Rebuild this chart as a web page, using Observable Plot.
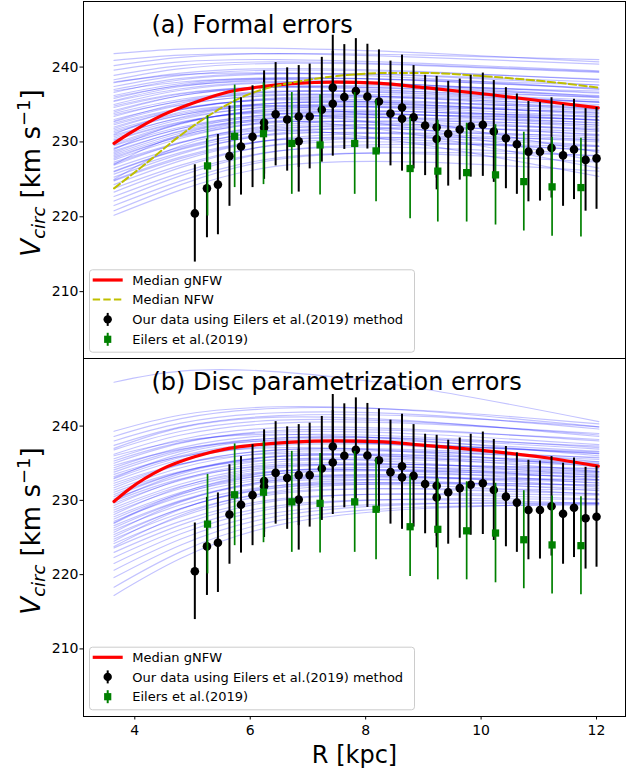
<!DOCTYPE html>
<html><head><meta charset="utf-8">
<script src="https://cdn.jsdelivr.net/npm/d3@7"></script>
<script src="https://cdn.jsdelivr.net/npm/@observablehq/plot@0.6"></script>
<style>
body{margin:0;background:#fff;font-family:"DejaVu Sans",sans-serif;}
#wrap{position:relative;width:633px;height:769px;overflow:hidden}
#wrap > svg{display:block}
#overlay{position:absolute;left:0;top:0;pointer-events:none}
</style></head><body><div id="wrap"></div>
<script>
// ---------------- data ----------------
const xTicks = [4, 6, 8, 10, 12];
const yTicks = [210, 220, 230, 240];

// model curves (sampled at these radii, kpc)
const modelR = [3.64, 4.8, 6.5, 9.0, 12.04];
const topModelCurves = [
 [241.8,242.4,242.5,241.9,240.7],[240.9,241.6,241.8,241.3,240.4],[240.2,241.3,241.8,241.6,241.0],
 [239.6,240.7,241.0,240.5,239.5],[238.9,240.2,240.7,240.3,239.4],[238.3,239.8,240.5,240.2,239.3],
 [237.9,239.2,239.8,239.4,238.3],[237.4,238.9,239.6,239.3,238.4],[237.0,238.5,239.2,238.8,237.6],
 [236.6,238.3,239.1,238.9,238.0],[236.2,237.8,238.6,238.2,237.1],[235.8,237.6,238.5,238.2,237.2],
 [235.4,237.1,238.0,237.6,236.5],[235.0,236.9,237.9,237.6,236.6],[234.6,236.4,237.4,237.0,235.9],
 [234.2,236.2,237.3,237.1,236.2],[233.8,235.7,236.8,236.4,235.3],[233.4,235.5,236.7,236.5,235.6],
 [233.0,235.0,236.2,235.9,234.8],[232.7,234.9,236.3,236.2,235.4],[232.3,234.4,235.7,235.4,234.3],
 [232.0,234.3,235.8,235.8,235.0],[231.6,233.8,235.2,234.9,233.8],[231.2,233.6,235.2,235.2,234.5],
 [230.9,233.2,234.7,234.5,233.4],[230.5,233.0,234.8,234.9,234.2],[230.2,232.6,234.2,234.0,232.9],
 [229.8,232.5,234.4,234.6,233.9],[229.5,232.0,233.7,233.6,232.5],[229.1,231.8,233.8,234.0,233.3],
 [228.8,231.4,233.2,233.1,232.0],[228.4,231.2,233.3,233.6,232.9],[228.0,230.7,232.6,232.6,231.6],
 [227.6,230.5,232.8,233.2,232.6],[227.3,230.0,232.1,232.1,231.0],[226.9,229.9,232.3,232.8,232.3],
 [226.5,229.3,231.5,231.6,230.5],[226.1,229.1,231.7,232.3,231.8],[225.7,228.6,231.0,231.1,230.0],
 [225.3,228.4,231.2,231.9,231.4],[224.8,227.8,230.3,230.5,229.4],[224.3,227.5,230.4,231.2,230.8],
 [223.8,226.9,229.6,229.9,228.9],[223.3,226.6,229.7,230.6,230.3],[222.7,225.9,228.8,229.2,228.1],
 [222.1,225.5,228.8,229.7,229.4],[221.5,224.8,227.9,228.4,227.3],[220.8,224.3,227.7,228.6,228.2],
 [220.2,223.6,226.8,227.3,226.1],[236.0,237.5,238.1,237.4,236.0],[234.8,236.5,237.3,236.7,235.3],
 [233.6,235.4,236.4,235.8,234.4],[232.5,234.5,235.6,235.0,233.6],[231.4,233.6,234.9,234.3,232.9],
 [230.3,232.7,234.1,233.6,232.2],[229.2,231.8,233.4,233.0,231.6],[228.2,230.9,232.7,232.3,230.9],
 [227.1,229.9,231.9,231.6,230.2],[226.0,229.0,231.1,230.9,229.5],[224.9,228.0,230.3,230.2,228.8],
 [235.5,237.4,238.4,238.3,237.6],[234.0,236.2,237.4,237.4,236.8],[232.8,235.2,236.7,236.7,236.0],
 [231.8,234.3,235.9,236.0,235.3],[230.7,233.3,235.2,235.3,234.7],[229.6,232.4,234.5,234.7,234.0],
 [228.6,231.5,233.7,234.0,233.4],[227.8,230.8,233.2,233.6,233.0],[236.8,238.0,238.4,237.6,236.1],
 [238.0,239.0,239.2,238.5,237.0],[227.0,231.0,232.8,230.8,226.5],[229.0,232.5,233.8,231.6,227.4],
 [225.0,229.5,231.6,229.6,225.4],[231.0,234.0,234.8,232.6,228.6]
];
const bottomModelCurves = [
 [245.9,247.4,247.3,245.0,240.6],[238.6,241.0,242.4,242.1,240.3],[238.0,240.4,241.8,241.5,239.6],
 [237.4,239.9,241.4,241.3,239.9],[236.8,239.3,240.8,240.5,238.8],[236.2,238.8,240.4,240.3,239.0],
 [235.6,238.2,239.8,239.5,238.0],[235.0,237.7,239.4,239.3,238.2],[234.4,237.1,238.8,238.5,237.1],
 [233.8,236.6,238.4,238.3,237.3],[233.2,236.0,237.8,237.5,236.3],[232.6,235.5,237.4,237.4,236.5],
 [232.0,234.9,236.8,236.6,235.5],[231.4,234.4,236.5,236.5,235.8],[230.8,233.8,235.9,235.8,234.8],
 [230.2,233.3,235.5,235.6,235.0],[229.6,232.7,234.9,234.8,233.9],[229.0,232.2,234.6,234.8,234.3],
 [228.4,231.6,233.9,234.0,233.1],[227.8,231.1,233.6,233.9,233.5],[227.2,230.5,233.0,233.1,232.4],
 [226.6,230.0,232.7,233.1,232.8],[226.0,229.4,232.0,232.3,231.6],[225.4,228.9,231.8,232.4,232.1],
 [224.8,228.3,231.1,231.5,230.9],[224.2,227.8,230.9,231.6,231.4],[223.6,227.2,230.2,230.8,230.2],
 [223.0,226.7,230.0,230.9,230.7],[222.3,226.1,229.3,230.1,229.6],[221.5,225.5,229.0,230.2,230.1],
 [220.6,224.8,228.4,229.6,229.5],[219.6,224.0,227.9,229.5,229.7],[218.3,223.1,227.3,229.1,229.4],
 [217.2,222.2,226.7,228.9,229.6],[236.0,238.0,238.9,238.0,236.0],[234.7,236.9,238.0,237.2,235.2],
 [233.5,235.9,237.1,236.4,234.5],[232.3,234.9,236.3,235.7,233.9],[231.1,233.9,235.5,235.0,233.3],
 [229.9,232.9,234.7,234.4,232.8],[228.7,231.9,234.0,233.8,232.3],[227.5,230.9,233.2,233.2,231.8],
 [226.3,229.9,232.5,232.6,231.3],[225.1,228.9,231.7,232.0,230.8],[235.3,237.8,239.2,238.9,237.5],
 [234.1,236.8,238.4,238.2,236.9],[232.9,235.8,237.6,237.5,236.3],[231.7,234.8,236.8,236.8,235.7],
 [230.5,233.8,236.0,236.1,235.2],[229.3,232.8,235.2,235.4,234.7],[228.1,231.8,234.4,234.8,234.2],
 [226.9,230.8,233.6,234.1,233.7],[225.7,229.8,232.8,233.5,233.2],[224.5,228.8,232.0,232.9,232.7],
 [239.3,241.5,242.6,242.0,239.9],[237.0,239.8,241.2,240.6,238.6],[233.0,236.3,238.2,237.9,236.6],
 [230.0,233.6,235.9,236.0,235.0],[227.0,231.0,233.9,234.4,233.8],[223.8,228.0,231.3,232.3,232.0]
];

// median gNFW / NFW
const medianR = [3.64, 3.9, 4.47, 5.05, 5.63, 6.2, 6.72, 7.5, 8.2, 9.03, 10.18, 11.34, 12.03];
const gnfwTopV = [229.8, 231.1, 233.55, 235.3, 236.7, 237.4, 237.8, 238.0, 237.85, 237.25, 236.3, 235.2, 234.55];
const gnfwBottomV = [229.85, 231.5, 234.2, 235.9, 237.0, 237.55, 237.85, 238.0, 237.9, 237.4, 236.6, 235.5, 234.6];
const nfwR = [3.64, 4.19, 4.76, 5.34, 5.92, 6.49, 6.78, 7.5, 8.3, 9.03, 10.18, 11.34, 12.03];
const nfwV = [223.8, 227.1, 230.7, 233.8, 236.2, 237.55, 238.0, 238.8, 239.2, 239.2, 238.7, 237.9, 237.25];

// our data (black)
const ourR = [5.04,5.25,5.44,5.64,5.84,6.04,6.24,6.24,6.44,6.64,6.84,6.84,7.03,7.24,7.43,7.43,7.63,7.83,8.03,8.23,8.43,8.63,8.63,8.83,9.03,9.23,9.23,9.43,9.63,9.82,10.03,10.22,10.43,10.62,10.82,11.02,11.22,11.42,11.61,11.81,12.0];
const ourV = [220.45,223.8,224.3,228.1,229.4,230.7,232.6,231.9,233.7,233.0,233.4,230.1,233.4,234.3,237.25,235.1,236.0,236.8,236.05,235.4,233.8,234.6,233.1,233.3,232.2,231.96,230.4,231.1,231.65,232.1,232.3,231.4,230.5,229.7,228.7,228.7,229.2,228.2,229.0,227.6,227.8];
const ourErr = [6.5,6.6,6.7,6.7,6.5,6.8,6.9,6.9,6.9,6.9,6.8,6.8,7.0,7.0,7.0,7.0,7.0,7.0,7.0,6.9,7.0,7.0,7.0,6.9,6.7,6.8,6.8,7.0,6.75,6.8,6.9,6.8,6.75,6.7,6.7,6.6,6.7,6.8,6.7,6.85,6.8];

// Eilers et al. (2019) (green)
const eilersR = [5.26,5.73,6.23,6.72,7.21,7.81,8.18,8.77,9.25,9.75,10.25,10.74,11.23,11.73];
const eilersV = [226.8,230.75,231.1,229.8,229.6,229.8,228.8,226.45,226.1,225.9,225.6,224.7,224.0,223.9];
const eilersErr = [6.7,6.85,6.8,6.8,6.7,6.8,6.8,6.7,6.8,6.6,6.7,6.6,6.6,6.6];

// ---------------- build ----------------
const toCurves = (curves) => curves.flatMap((c, i) => c.map((v, j) => ({id: i, R: modelR[j], v})));
const pts = (R, V, E) => R.map((r, i) => ({R: r, v: V[i], e: E[i]}));
const ourData = pts(ourR, ourV, ourErr);
const eilersData = pts(eilersR, eilersV, eilersErr);
const medTop = medianR.map((r, i) => ({R: r, v: gnfwTopV[i]}));
const medBot = medianR.map((r, i) => ({R: r, v: gnfwBottomV[i]}));
const nfwData = nfwR.map((r, i) => ({R: r, v: nfwV[i]}));

const FONT = "DejaVu Sans";

function panel({curves, med, nfw, height, marginTop, marginBottom, yDomain, showX, title}) {
  const marks = [
    Plot.line(toCurves(curves), {x: "R", y: "v", z: "id", stroke: "#0000ff", strokeOpacity: 0.24, strokeWidth: 1.15, curve: "natural"}),
    Plot.line(med, {x: "R", y: "v", stroke: "#ff0000", strokeWidth: 3.2, curve: "monotone-x"}),
  ];
  if (nfw) marks.push(Plot.line(nfw, {x: "R", y: "v", stroke: "#bfbf00", strokeWidth: 2, strokeDasharray: "7.4,3.2", curve: "monotone-x"}));
  marks.push(
    Plot.ruleX(ourData, {x: "R", y1: d => d.v - d.e, y2: d => d.v + d.e, stroke: "black", strokeWidth: 2}),
    Plot.dot(ourData, {x: "R", y: "v", r: 4.3, fill: "black", stroke: "none"}),
    Plot.ruleX(eilersData, {x: "R", y1: d => d.v - d.e, y2: d => d.v + d.e, stroke: "#008000", strokeWidth: 1.7}),
    Plot.dot(eilersData, {x: "R", y: "v", r: 4.1, symbol: "square", fill: "#008000", stroke: "none"}),
    Plot.text([title], {text: d => d, frameAnchor: "top-left", dx: 68, dy: 14, fontSize: 24, textAnchor: "start", lineAnchor: "top", fill: "black"}),
    Plot.axisY(yTicks, {tickSize: 3.5, tickPadding: 1.5, fontSize: 14, label: null}),
    Plot.frame({stroke: "black", strokeWidth: 1})
  );
  if (showX) {
    marks.push(Plot.axisX(xTicks, {tickSize: 3.5, tickPadding: 5, fontSize: 14, label: null}));
    marks.push(Plot.text(["R [kpc]"], {text: d => d, frameAnchor: "bottom", dy: 46, fontSize: 24, lineAnchor: "bottom", fill: "black"}));
  }
  return Plot.plot({
    width: 633, height, marginLeft: 83, marginRight: 8, marginTop, marginBottom,
    x: {domain: [3.111, 12.502], axis: null},
    y: {domain: yDomain, axis: null},
    style: {fontFamily: FONT, background: "white", color: "black", overflow: "visible"},
    marks
  });
}

const wrap = document.getElementById("wrap");
const topSvg = panel({curves: topModelCurves, med: medTop, nfw: nfwData, height: 358, marginTop: 1, marginBottom: 0,
  yDomain: [201.07, 248.76], showX: false, title: "(a) Formal errors"});
const botSvg = panel({curves: bottomModelCurves, med: medBot, nfw: null, height: 411, marginTop: 0, marginBottom: 53,
  yDomain: [200.9, 249.1], showX: true, title: "(b) Disc parametrization errors"});
wrap.appendChild(topSvg);
wrap.appendChild(botSvg);

// y labels (with italic V_circ and superscript)
function ylab(svg, cy) {
  const t = d3.select(svg).append("text")
    .attr("transform", `translate(40,${cy}) rotate(-90)`)
    .attr("text-anchor", "middle").attr("font-family", FONT).attr("font-size", 26).attr("fill", "black");
  t.append("tspan").attr("font-style", "italic").text("V");
  t.append("tspan").attr("font-style", "italic").attr("font-size", 18).attr("dy", 5).text("circ");
  t.append("tspan").attr("dy", -5).text(" [km s");
  t.append("tspan").attr("font-size", 18).attr("dy", -10).text("\u22121");
  t.append("tspan").attr("dy", 10).text("]");
}
ylab(topSvg, 173);
ylab(botSvg, 173);

// legends
const ov = d3.select(wrap).append("svg").attr("id", "overlay").attr("width", 633).attr("height", 769);
function legend(x0, y0, w, h, rows) {
  const g = ov.append("g").attr("font-family", FONT).attr("font-size", 13);
  g.append("rect").attr("x", x0 + 0.5).attr("y", y0 + 0.5).attr("width", w).attr("height", h).attr("rx", 3)
    .attr("fill", "white").attr("fill-opacity", 0.8).attr("stroke", "#cccccc").attr("stroke-width", 1);
  rows.forEach(r => {
    const y = r.y;
    if (r.type === "line") {
      g.append("line").attr("x1", 92.7).attr("x2", 122.7).attr("y1", y).attr("y2", y)
        .attr("stroke", r.color).attr("stroke-width", r.width).attr("stroke-dasharray", r.dash || null);
    } else {
      g.append("line").attr("x1", 107.7).attr("x2", 107.7).attr("y1", y - 6.5).attr("y2", y + 6.5)
        .attr("stroke", r.color).attr("stroke-width", 2);
      if (r.symbol === "circle") g.append("circle").attr("cx", 107.7).attr("cy", y).attr("r", 4.2).attr("fill", r.color);
      else g.append("rect").attr("x", 107.7 - 3.6).attr("y", y - 3.6).attr("width", 7.2).attr("height", 7.2).attr("fill", r.color);
    }
    g.append("text").attr("x", 132.3).attr("y", y).attr("dy", "0.36em").attr("fill", "black").text(r.label);
  });
}
legend(89, 269.3, 325, 82.4, [
  {type: "line", color: "#ff0000", width: 3.2, label: "Median gNFW", y: 280},
  {type: "line", color: "#bfbf00", width: 2, dash: "7.4,3.2", label: "Median NFW", y: 299.6},
  {type: "err", color: "black", symbol: "circle", label: "Our data using Eilers et al.(2019) method", y: 319.4},
  {type: "err", color: "#008000", symbol: "square", label: "Eilers et al.(2019)", y: 339.3}
]);
legend(89, 646.7, 325, 62.6, [
  {type: "line", color: "#ff0000", width: 3.2, label: "Median gNFW", y: 657.3},
  {type: "err", color: "black", symbol: "circle", label: "Our data using Eilers et al.(2019) method", y: 676.9},
  {type: "err", color: "#008000", symbol: "square", label: "Eilers et al.(2019)", y: 696.7}
]);
</script></body></html>
